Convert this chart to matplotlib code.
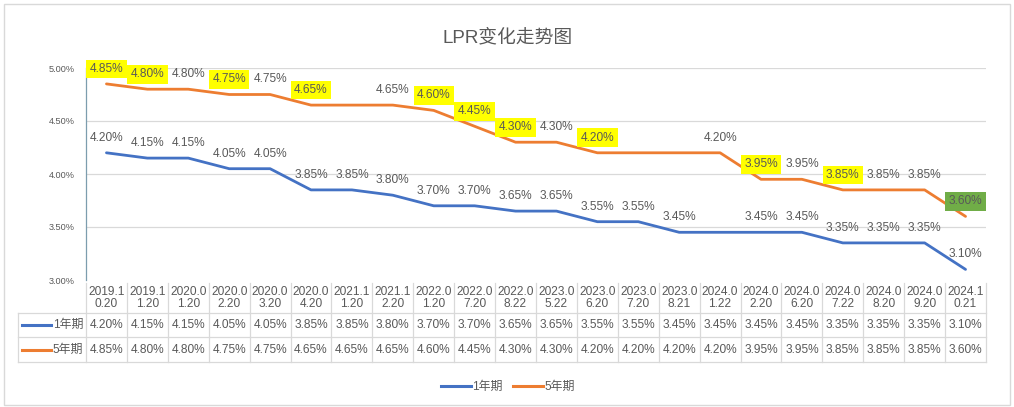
import matplotlib
matplotlib.use("Agg")
import matplotlib.pyplot as plt
import matplotlib.transforms as mtransforms
from matplotlib.lines import Line2D
from matplotlib.patches import Rectangle

plt.rcParams['font.family'] = ['Liberation Sans', 'Noto Sans CJK SC']

dates = ["2019.10.20", "2019.11.20", "2020.01.20", "2020.02.20", "2020.03.20",
         "2020.04.20", "2021.11.20", "2021.12.20", "2022.01.20", "2022.07.20",
         "2022.08.22", "2023.05.22", "2023.06.20", "2023.07.20", "2023.08.21",
         "2024.01.22", "2024.02.20", "2024.06.20", "2024.07.22", "2024.08.20",
         "2024.09.20", "2024.10.21"]
lpr_1y = [4.20, 4.15, 4.15, 4.05, 4.05, 3.85, 3.85, 3.80, 3.70, 3.70, 3.65,
          3.65, 3.55, 3.55, 3.45, 3.45, 3.45, 3.45, 3.35, 3.35, 3.35, 3.10]
lpr_5y = [4.85, 4.80, 4.80, 4.75, 4.75, 4.65, 4.65, 4.65, 4.60, 4.45, 4.30,
          4.30, 4.20, 4.20, 4.20, 4.20, 3.95, 3.95, 3.85, 3.85, 3.85, 3.60]
series_names = ["1年期", "5年期"]

# which data labels are shown / highlighted in the original
hidden_1y = [15]
hidden_5y = [6, 13, 14]
yellow_5y = [0, 1, 3, 5, 8, 9, 10, 12, 16, 18]
green_5y = [21]

BLUE = "#4472C4"
ORANGE = "#ED7D31"
TXT = "#595959"
GRID = "#D9D9D9"
FS = 8.6

W, H = 1014, 407
fig = plt.figure(figsize=(W / 100, H / 100), dpi=100)
ax = fig.add_axes([86 / W, (H - 280) / H, 900 / W, 212 / H])

x = list(range(len(dates)))
ax.plot(x, lpr_1y, color=BLUE, lw=2.0, solid_capstyle="round")
ax.plot(x, lpr_5y, color=ORANGE, lw=2.0, solid_capstyle="round")

ax.set_xlim(-0.5, len(dates) - 0.5)
ax.set_ylim(3.0, 5.0)
yt = [3.0, 3.5, 4.0, 4.5, 5.0]
ax.set_yticks(yt)
ax.set_yticklabels([f"{v:.2f}%" for v in yt], fontsize=6.6, color=TXT)
ax.tick_params(axis="y", length=0, pad=8)
ax.set_xticks([])
for v in yt[1:]:
    ax.axhline(v, color=GRID, lw=0.9, zorder=0)
for s in ["top", "right", "bottom"]:
    ax.spines[s].set_visible(False)
ax.spines["left"].set_color("#7C9DAE")
ax.spines["left"].set_linewidth(0.9)

# data labels
for i, v in enumerate(lpr_1y):
    if i in hidden_1y:
        continue
    ax.annotate(f"{v:.2f}%", (i, v), xytext=(0, 15), textcoords="offset pixels",
                ha="center", va="center", fontsize=FS, color=TXT,
                annotation_clip=False)
for i, v in enumerate(lpr_5y):
    if i in hidden_5y:
        continue
    bbox = None
    if i in yellow_5y:
        bbox = dict(boxstyle="square,pad=0.28", fc="#FFFF00", ec="none")
    elif i in green_5y:
        bbox = dict(boxstyle="square,pad=0.28", fc="#70AD47", ec="none")
    ax.annotate(f"{v:.2f}%", (i, v), xytext=(0, 15), textcoords="offset pixels",
                ha="center", va="center", fontsize=FS, color=TXT, bbox=bbox,
                annotation_clip=False, zorder=5)

# data table under the chart
def fy(py):
    return (H - py) / H

trans = mtransforms.blended_transform_factory(ax.transData, fig.transFigure)
n = len(dates)
for i, d in enumerate(dates):
    ax.text(i, fy(298), d[:6] + "\n" + d[6:], transform=trans, ha="center",
            va="center", fontsize=FS, color=TXT, linespacing=0.95)
    ax.text(i, fy(325), f"{lpr_1y[i]:.2f}%", transform=trans, ha="center",
            va="center", fontsize=FS, color=TXT)
    ax.text(i, fy(350), f"{lpr_5y[i]:.2f}%", transform=trans, ha="center",
            va="center", fontsize=FS, color=TXT)

for k in range(n + 1):
    ax.plot([k - 0.5, k - 0.5], [fy(283), fy(362)], transform=trans,
            color=GRID, lw=0.9, clip_on=False)
for py in [313, 337, 362]:
    fig.add_artist(Line2D([18 / W, 986 / W], [fy(py), fy(py)], color=GRID, lw=0.9))
fig.add_artist(Line2D([18 / W, 18 / W], [fy(313), fy(362)], color=GRID, lw=0.9))

for py, name, col in [(325, series_names[0], BLUE), (350, series_names[1], ORANGE)]:
    fig.add_artist(Line2D([22 / W, 51 / W], [fy(py), fy(py)], color=col, lw=2.2))
    fig.text(83 / W, fy(py), name, ha="right", va="center", fontsize=FS, color=TXT)

# legend
handles = [Line2D([], [], color=BLUE, lw=2.2), Line2D([], [], color=ORANGE, lw=2.2)]
fig.legend(handles, series_names, loc="center", bbox_to_anchor=(508 / W, fy(387)),
           ncol=2, frameon=False, fontsize=FS, handlelength=2.5, handletextpad=0.1,
           columnspacing=0.9, labelcolor=TXT)

fig.text(508 / W, fy(38), "LPR变化走势图", ha="center", va="center",
         fontsize=13.5, color=TXT)

fig.add_artist(Rectangle((4 / W, 2 / H), 1006 / W, 401 / H, transform=fig.transFigure,
                         fill=False, ec=GRID, lw=1))

fig.savefig("out.png", dpi=100)
